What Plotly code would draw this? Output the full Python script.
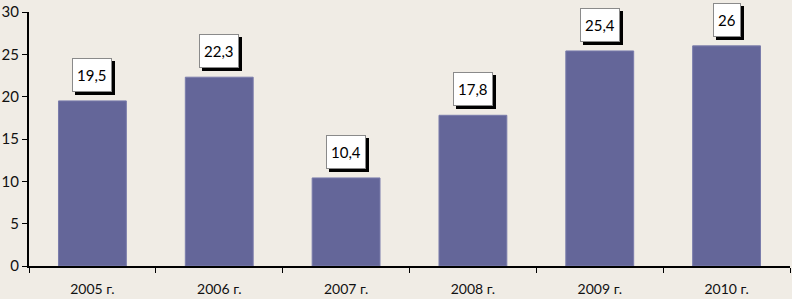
import plotly.graph_objects as go

categories = ["2005 г.", "2006 г.", "2007 г.", "2008 г.", "2009 г.", "2010 г."]
values = [19.5, 22.3, 10.4, 17.8, 25.4, 26]
value_labels = ["19,5", "22,3", "10,4", "17,8", "25,4", "26"]

BG = "#F0ECE5"
BAR = "#646699"
FONT = "Lato"

fig = go.Figure()
fig.add_trace(go.Bar(
    x=categories, y=values,
    marker=dict(color=BAR, line=dict(color="#7a7cab", width=1)),
    hoverinfo="skip",
))

annotations = []
for c, v, t in zip(categories, values, value_labels):
    # shadow
    annotations.append(dict(
        x=c, y=v, xref="x", yref="y", text=t, showarrow=False,
        yanchor="bottom", xanchor="center", yshift=6, xshift=3,
        font=dict(family=FONT, size=15, color="black"),
        bgcolor="black", bordercolor="black", borderwidth=1,
        borderpad=4, height=24,
    ))
for c, v, t in zip(categories, values, value_labels):
    annotations.append(dict(
        x=c, y=v, xref="x", yref="y", text=t, showarrow=False,
        yanchor="bottom", xanchor="center", yshift=9, xshift=0,
        font=dict(family=FONT, size=15, color="black"),
        bgcolor="white", bordercolor="#8a8a8a", borderwidth=1,
        borderpad=4, height=24,
    ))

fig.update_layout(
    width=792, height=299,
    margin=dict(l=27, r=2, t=9, b=31),
    paper_bgcolor=BG, plot_bgcolor=BG,
    bargap=0.465,
    showlegend=False,
    annotations=annotations,
    font=dict(family=FONT, size=14, color="#111111"),
)
fig.update_xaxes(
    showline=True, linecolor="black", linewidth=2,
    ticks="outside", tickson="boundaries", ticklen=5, tickcolor="black", tickwidth=1,
    ticklabelstandoff=9,
    showgrid=False, tickfont=dict(family=FONT, size=14, color="#111111"),
)
fig.update_yaxes(
    range=[0, 30], dtick=5, showline=True, linecolor="black", linewidth=2,
    ticks="outside", ticklen=5, tickcolor="black", tickwidth=1,
    showgrid=False, zeroline=False, ticklabeloverflow="allow",
    tickfont=dict(family=FONT, size=15, color="#111111"),
)

fig.write_html(
    "out.html",
    config={"displayModeBar": False},
    post_script="document.body.style.margin='0';document.body.style.overflow='hidden';",
)
